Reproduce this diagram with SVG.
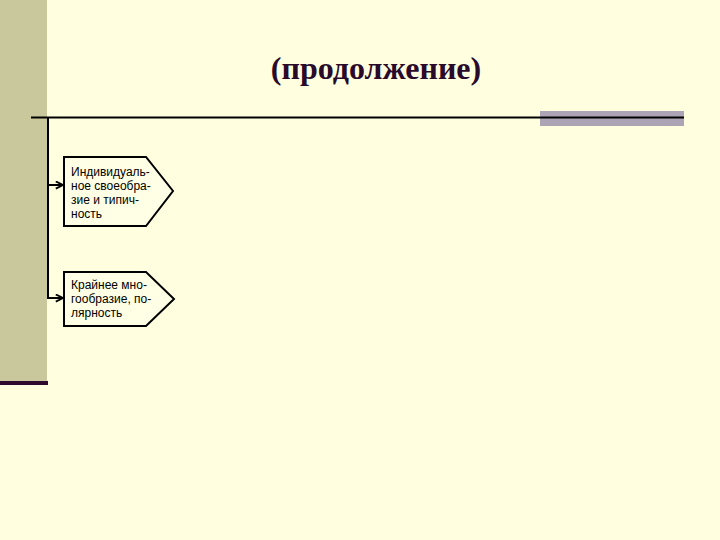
<svg xmlns="http://www.w3.org/2000/svg" width="720" height="540" viewBox="0 0 720 540">
<defs>
<style>
.box{fill:#FFFFE6;stroke:#000;stroke-width:2}
.lbl{font-family:"Liberation Sans",Arial,sans-serif;font-size:12px;fill:#000}
.conn{fill:none;stroke:#000;stroke-width:2}
</style>
<marker id="arr" viewBox="0 0 10 10" refX="9" refY="5" markerWidth="9" markerHeight="9" orient="auto" markerUnits="userSpaceOnUse">
<path d="M1,1 L9,5 L1,9" fill="none" stroke="#000" stroke-width="2"/>
</marker>
</defs>
<rect x="0" y="0" width="720" height="540" fill="#FFFFE0"/>
<rect x="0" y="0" width="47" height="382" fill="#C8C89C"/>
<rect x="0" y="381" width="48" height="4" fill="#2E0A2E"/>
<rect x="540" y="111" width="144" height="15" fill="#ACA4B4"/>
<text x="376" y="79" text-anchor="middle" font-family="'Liberation Serif','Times New Roman',serif" font-weight="bold" font-size="32" fill="#2A0A2A">(продолжение)</text>
<g id="connectors">
<line x1="31" y1="117.5" x2="684" y2="117.5" stroke="#000" stroke-width="2"/>
<path class="conn" d="M48,117 V298 H63" marker-end="url(#arr)"/>
<path class="conn" d="M48,185 H63" marker-end="url(#arr)"/>
</g>
<g id="node1">
<polygon class="box" points="64,157 146,157 173,191 146,226 64,226"/>
<text class="lbl" x="71" y="176">Индивидуаль-</text>
<text class="lbl" x="71" y="190">ное своеобра-</text>
<text class="lbl" x="71" y="204">зие и типич-</text>
<text class="lbl" x="71" y="218">ность</text>
</g>
<g id="node2">
<polygon class="box" points="64,272 146,272 174,299 146,326 64,326"/>
<text class="lbl" x="71" y="289">Крайнее мно-</text>
<text class="lbl" x="71" y="303">гообразие, по-</text>
<text class="lbl" x="71" y="317">лярность</text>
</g>
</svg>
